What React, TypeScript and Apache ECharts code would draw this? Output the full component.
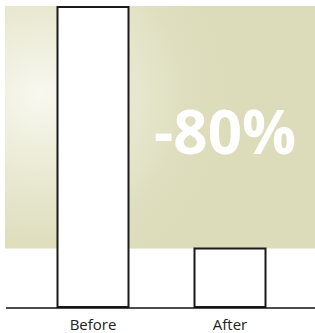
import React, { useEffect, useRef } from "react";
import * as echarts from "echarts";

const categories = ["Before", "After"];
const values = [100, 20];
const changeLabel = "-80%";

export default function App() {
  const ref = useRef<HTMLDivElement>(null);
  useEffect(() => {
    if (!ref.current) return;
    const chart = echarts.init(ref.current, null, { renderer: "svg" });
    chart.setOption({
      animation: false,
      grid: { left: 24.5, right: 16.5, top: 6, bottom: 25, containLabel: false },
      xAxis: {
        type: "category",
        data: categories,
        axisLine: { show: false },
        axisTick: { show: false },
        axisLabel: {
          color: "#222",
          fontFamily: "Open Sans",
          fontSize: 15,
          margin: 8,
        },
      },
      yAxis: {
        type: "value",
        min: 0,
        max: 100,
        show: false,
        splitLine: { show: false },
      },
      graphic: [
        {
          type: "rect",
          z: -10,
          shape: { x: 5, y: 6, width: 310, height: 242.5 },
          style: {
            fill: {
              type: "radial",
              x: 40,
              y: 95,
              r: 190,
              global: true,
              colorStops: [
                { offset: 0, color: "#f8f8f0" },
                { offset: 0.35, color: "#ececd8" },
                { offset: 0.75, color: "#dfdfc0" },
                { offset: 1, color: "#dcdcba" },
              ],
            },
          },
        },
        {
          type: "text",
          z: 10,
          x: 225,
          y: 131,
          style: {
            text: changeLabel,
            fill: "#ffffff",
            font: "bold 60px 'Open Sans'",
            align: "center",
            verticalAlign: "middle",
          },
        },
        {
          type: "line",
          z: 10,
          shape: { x1: 6, y1: 308, x2: 315, y2: 308 },
          style: { stroke: "#111", lineWidth: 1.5 },
        },
      ],
      series: [
        {
          type: "bar",
          data: values,
          barWidth: 73,
          itemStyle: { color: "#ffffff", borderColor: "#1a1a1a", borderWidth: 2 },
        },
      ],
    });
    return () => chart.dispose();
  }, []);
  return (
    <div
      ref={ref}
      style={{ position: "absolute", left: 0, top: 0, width: 315, height: 333 }}
    />
  );
}
